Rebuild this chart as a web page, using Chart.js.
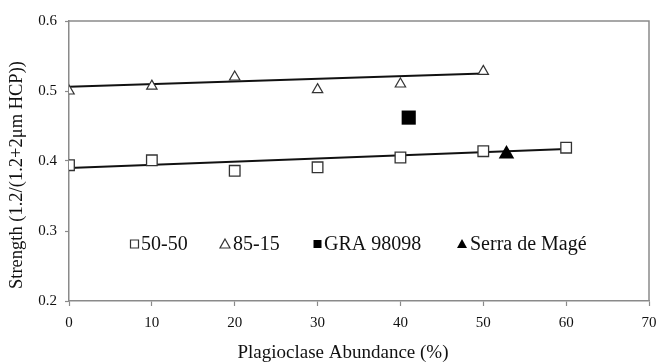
<!DOCTYPE html>
<html>
<head>
<meta charset="utf-8">
<script src="https://cdn.jsdelivr.net/npm/chart.js@4.4.1/dist/chart.umd.min.js"></script>
<style>
html,body{margin:0;padding:0;background:#fff;}
#wrap{width:659px;height:362px;position:relative;}
</style>
</head>
<body>
<div id="wrap"><canvas id="c" width="659" height="362"></canvas></div>
<script>
// ---- data ----
const abund5050 = [0, 10, 20, 30, 40, 50, 60];
const strength5050 = [0.394, 0.401, 0.386, 0.391, 0.405, 0.414, 0.419];
const abund8515 = [0, 10, 20, 30, 40, 50];
const strength8515 = [0.500, 0.507, 0.520, 0.502, 0.510, 0.528];
const graAbund = [41];
const graStrength = [0.462];
const serraAbund = [52.8];
const serraStrength = [0.410];
const trend5050X = [0, 60];
const trend5050Y = [0.390, 0.417];
const trend8515X = [0, 50];
const trend8515Y = [0.506, 0.525];
const xTicks = [0, 10, 20, 30, 40, 50, 60, 70];
const yTicks = [0.2, 0.3, 0.4, 0.5, 0.6];
const seriesLabels = ['50-50', '85-15', 'GRA 98098', 'Serra de Magé'];
const xTitle = 'Plagioclase Abundance (%)';
const yTitle = 'Strength (1.2/(1.2+2μm HCP))';

const pts = (xs, ys) => xs.map((x, i) => ({x: x, y: ys[i]}));
const SERIF = '"Liberation Serif", "Times New Roman", serif';
const TEXT = '#111';
const AXIS = '#8a8a8a';

const boxPlugin = {
  id: 'box',
  beforeDatasetsDraw(chart) {
    const a = chart.chartArea, ctx = chart.ctx;
    ctx.save();
    ctx.strokeStyle = AXIS;
    ctx.lineWidth = 1.5;
    ctx.beginPath();
    ctx.moveTo(a.left, a.top); ctx.lineTo(a.right, a.top); ctx.lineTo(a.right, a.bottom);
    ctx.stroke();
    ctx.restore();
  }
};

const titlePlugin = {
  id: 'axisTitles',
  afterDraw(chart) {
    const ctx = chart.ctx;
    ctx.save();
    ctx.font = '19px ' + SERIF;
    ctx.fillStyle = TEXT;
    ctx.textAlign = 'center';
    ctx.textBaseline = 'middle';
    ctx.fillText(xTitle, 343, 353);
    ctx.translate(17, 175);
    ctx.rotate(-Math.PI / 2);
    ctx.font = '18.5px ' + SERIF;
    ctx.fillText(yTitle, 0, 0);
    ctx.restore();
  }
};

const legendStarts = [130, 220, 313, 457];
const legendPlugin = {
  id: 'inlineLegend',
  afterDraw(chart) {
    const ctx = chart.ctx;
    ctx.save();
    ctx.font = '20px ' + SERIF;
    ctx.textBaseline = 'middle';
    const y = 244;
    let k = 0;
    chart.data.datasets.forEach(ds => {
      if (!ds.label) return;
      let x = legendStarts[k++];
      ctx.lineWidth = 1.2;
      ctx.strokeStyle = '#333';
      ctx.fillStyle = ds.legendFill;
      if (ds.pointStyle === 'rect') {
        ctx.beginPath(); ctx.rect(x + 0.5, y - 4, 8, 8);
        if (ds.legendFill !== '#fff') ctx.fill(); else ctx.stroke();
        x += 11;
      } else {
        ctx.beginPath(); ctx.moveTo(x + 5, y - 5); ctx.lineTo(x + 10, y + 4); ctx.lineTo(x, y + 4); ctx.closePath();
        if (ds.legendFill !== '#fff') ctx.fill(); else ctx.stroke();
        x += 13;
      }
      ctx.fillStyle = TEXT;
      ctx.fillText(ds.label, x, y + 1);
    });
    ctx.restore();
  }
};

const markerBorder = '#333';
new Chart(document.getElementById('c'), {
  type: 'scatter',
  data: {
    datasets: [
      {label: seriesLabels[0], data: pts(abund5050, strength5050), pointStyle: 'rect', pointRadius: 7.5, pointBackgroundColor: '#fff', pointBorderColor: markerBorder, pointBorderWidth: 1.3, legendFill: '#fff', order: 1},
      {label: seriesLabels[1], data: pts(abund8515, strength8515), pointStyle: 'triangle', pointRadius: 6, pointBackgroundColor: '#fff', pointBorderColor: markerBorder, pointBorderWidth: 1.2, legendFill: '#fff', order: 1},
      {label: seriesLabels[2], data: pts(graAbund, graStrength), pointStyle: 'rect', pointRadius: 10, pointBackgroundColor: '#000', pointBorderColor: '#000', pointBorderWidth: 0, legendFill: '#000', order: 1},
      {label: seriesLabels[3], data: pts(serraAbund, serraStrength), pointStyle: 'triangle', pointRadius: 9, pointBackgroundColor: '#000', pointBorderColor: '#000', pointBorderWidth: 0, legendFill: '#000', order: 1},
      {label: '', data: pts(trend5050X, trend5050Y), showLine: true, borderColor: '#111', borderWidth: 2, pointRadius: 0, order: 2},
      {label: '', data: pts(trend8515X, trend8515Y), showLine: true, borderColor: '#111', borderWidth: 2, pointRadius: 0, order: 2}
    ]
  },
  options: {
    responsive: false,
    animation: false,
    layout: {padding: {top: 21, right: 8, left: 0, bottom: 0}},
    plugins: {legend: {display: false}, tooltip: {enabled: false}},
    scales: {
      x: {
        type: 'linear', min: 0, max: 70,
        afterBuildTicks: s => { s.ticks = xTicks.map(v => ({value: v})); },
        afterFit: s => { s.height = 61; s.paddingLeft = 0; s.paddingRight = 0; },
        border: {color: AXIS, width: 1.5},
        grid: {drawOnChartArea: false, drawTicks: true, tickLength: 5, color: AXIS, tickWidth: 1.2},
        ticks: {color: TEXT, font: {family: SERIF, size: 15}, padding: 8, maxRotation: 0,
                callback: v => String(v)},
        title: {display: false}
      },
      y: {
        type: 'linear', min: 0.2, max: 0.6,
        afterBuildTicks: s => { s.ticks = yTicks.map(v => ({value: v})); },
        afterFit: s => { s.width = 69; s.paddingTop = 0; s.paddingBottom = 0; },
        border: {color: AXIS, width: 1.5},
        grid: {drawOnChartArea: false, drawTicks: true, tickLength: 4, color: AXIS, tickWidth: 1.2},
        ticks: {color: TEXT, font: {family: SERIF, size: 15}, padding: 8,
                callback: v => Number(v).toFixed(1)},
        title: {display: false}
      }
    }
  },
  plugins: [boxPlugin, legendPlugin, titlePlugin]
});
</script>
</body>
</html>
